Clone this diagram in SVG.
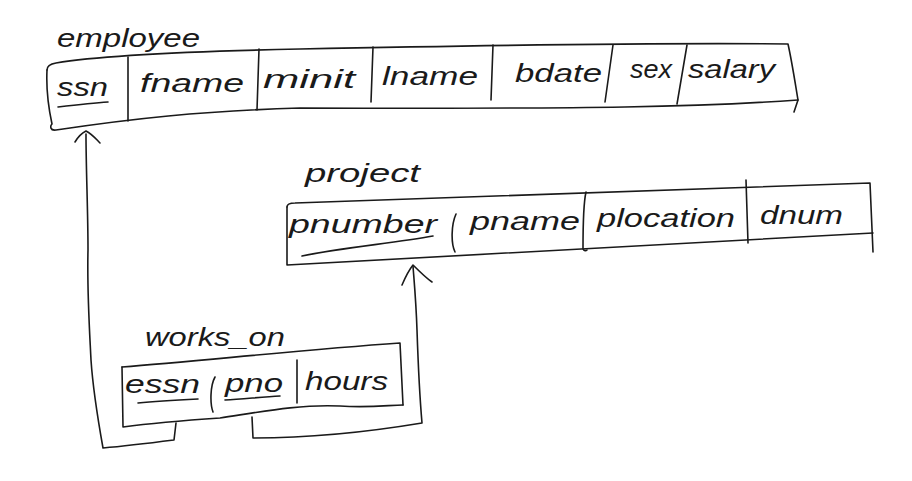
<svg xmlns="http://www.w3.org/2000/svg" width="912" height="481" viewBox="0 0 912 481">
<style>
.ink{fill:none;stroke:#1a1a1a;stroke-width:1.6;stroke-linecap:round;stroke-linejoin:round}
.t{font-family:"Liberation Sans",Arial,sans-serif;font-size:26px;fill:#1a1a1a;font-style:italic}
.lbl{font-family:"Liberation Sans",Arial,sans-serif;font-size:26px;fill:#1a1a1a;font-style:italic}
</style>
<rect width="912" height="481" fill="#ffffff"/>

<g id="employee">
  <text class="lbl" x="57" y="47" textLength="143" lengthAdjust="spacingAndGlyphs">employee</text>
  <path class="ink" d="M47,70 C47,66 50,64 56,63 C90,57 160,52 300,49 C500,45 700,43 788,44 C792,62 795,82 798,100 L794,112"/>
  <path class="ink" d="M798,100 C700,107 600,109 300,108 C200,111 130,119 56,130 C50,131 50,126 52,124 C49,110 46,90 47,70"/>
  <path class="ink" d="M128,57 L128,121 M259,49 L257,110 M373,47 L371,102 M493,45 L491,100 M613,45 L605,102 M687,45 L677,104"/>
  <text class="t" x="57" y="96" textLength="51" lengthAdjust="spacingAndGlyphs">ssn</text>
  <path class="ink" d="M58,107 C75,105 92,103 108,102"/>
  <text class="t" x="140" y="92" textLength="104" lengthAdjust="spacingAndGlyphs">fname</text>
  <text class="t" x="263" y="88" textLength="92" lengthAdjust="spacingAndGlyphs">minit</text>
  <text class="t" x="382" y="85" textLength="96" lengthAdjust="spacingAndGlyphs">lname</text>
  <text class="t" x="515" y="82" textLength="87" lengthAdjust="spacingAndGlyphs">bdate</text>
  <text class="t" x="630" y="78" textLength="42" lengthAdjust="spacingAndGlyphs">sex</text>
  <text class="t" x="688" y="78" textLength="87" lengthAdjust="spacingAndGlyphs">salary</text>
</g>

<g id="project">
  <text class="lbl" x="305" y="182" textLength="115" lengthAdjust="spacingAndGlyphs">project</text>
  <path class="ink" d="M287,207 C287,204 290,203 295,203 C420,198 620,191 870,183 L873,252"/>
  <path class="ink" d="M287,207 L287,265 C400,258 590,250 873,233"/>
  <path class="ink" d="M456,214 C451,225 451,244 455,252 M586,192 C583,205 583,240 583,249 C584,251 586,251 587,250 M746,180 L748,243"/>
  <text class="t" x="289" y="233" textLength="148" lengthAdjust="spacingAndGlyphs">pnumber</text>
  <path class="ink" d="M302,256 C340,248 395,243 433,236"/>
  <text class="t" x="470" y="230" textLength="110" lengthAdjust="spacingAndGlyphs">pname</text>
  <text class="t" x="597" y="227" textLength="138" lengthAdjust="spacingAndGlyphs">plocation</text>
  <text class="t" x="760" y="224" textLength="83" lengthAdjust="spacingAndGlyphs">dnum</text>
</g>

<g id="works_on">
  <text class="lbl" x="145" y="346" textLength="140" lengthAdjust="spacingAndGlyphs">works_on</text>
  <path class="ink" d="M122,367 C200,361 300,350 400,343 L403,405"/>
  <path class="ink" d="M122,367 L123,427 C160,422 190,420 220,418 C260,412 300,404 340,406 C370,408 390,405 403,405"/>
  <path class="ink" d="M215,377 C210,386 210,404 213,412 M297,360 L297,403"/>
  <text class="t" x="125" y="393" textLength="75" lengthAdjust="spacingAndGlyphs">essn</text>
  <path class="ink" d="M138,403 C158,401 178,400 198,399"/>
  <text class="t" x="225" y="392" textLength="58" lengthAdjust="spacingAndGlyphs">pno</text>
  <path class="ink" d="M225,400 C243,399 262,397 280,396"/>
  <text class="t" x="305" y="390" textLength="83" lengthAdjust="spacingAndGlyphs">hours</text>
</g>

<g id="connectors">
  <path class="ink" d="M176,423 L174,440 C150,443 125,446 103,448 C98,420 93,390 91,360 C89,320 87,290 88,250 C88,210 86,170 86,134"/>
  <path class="ink" d="M75,142 C78,137 82,133 86,131 C92,134 96,139 100,143"/>
  <path class="ink" d="M252,417 L253,438 C320,438 380,430 422,423 C420,400 418,360 417,330 C416,300 414,280 413,266"/>
  <path class="ink" d="M402,285 C405,278 409,270 413,265 C420,272 426,278 432,282"/>
</g>
</svg>
